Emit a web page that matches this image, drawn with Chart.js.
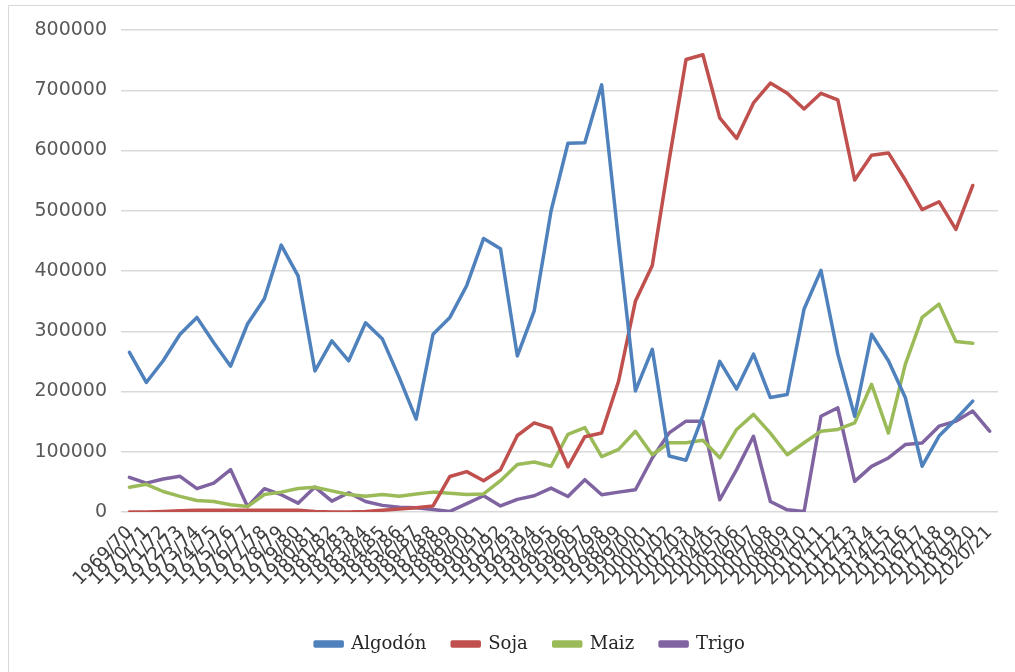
<!DOCTYPE html>
<html>
<head>
<meta charset="utf-8">
<script src="https://cdn.jsdelivr.net/npm/chart.js@4/dist/chart.umd.min.js"></script>
<style>
  html, body { margin: 0; padding: 0; background: #ffffff; }
  #wrap { position: relative; width: 1015px; height: 672px; }
  #frame { position: absolute; left: 8px; top: 5px; width: 1010px; height: 670px;
           border-left: 1px solid #d9d9d9; border-top: 1px solid #d9d9d9; pointer-events: none; }
  canvas { display: block; }
</style>
</head>
<body>
<div id="wrap">
  <canvas id="c" width="1015" height="672"></canvas>
  <div id="frame"></div>
</div>
<script>
const categories = [
  "1969/70","1970/71","1971/72","1972/73","1973/74","1974/75","1975/76","1976/77","1977/78","1978/79",
  "1979/80","1980/81","1981/82","1982/83","1983/84","1984/85","1985/86","1986/87","1987/88","1988/89",
  "1989/90","1990/91","1991/92","1992/93","1993/94","1994/95","1995/96","1996/97","1997/98","1998/99",
  "1999/00","2000/01","2001/02","2002/03","2003/04","2004/05","2005/06","2006/07","2007/08","2008/09",
  "2009/10","2010/11","2011/12","2012/13","2013/14","2014/15","2015/16","2016/17","2017/18","2018/19",
  "2019/20","2020/21"
];

const algodon = [
  265000,215000,251000,295000,323000,281000,242000,312000,354000,443000,
  392000,234000,284000,251000,314000,287000,223000,154000,295000,323000,
  376000,454000,437000,259000,334000,500000,612000,613000,709000,450000,
  201000,270000,93000,86000,160000,250000,204000,262000,190000,195000,
  337000,401000,262000,159000,295000,251000,190000,76000,126000,154000,
  184000,null
];

const soja = [
  0,0,1000,2000,3000,3000,3000,3000,3000,3000,
  3000,1000,0,0,1000,3000,5000,7000,10000,59000,
  67000,52000,70000,127000,148000,139000,75000,125000,131000,217000,
  350000,409000,584000,751000,759000,654000,620000,679000,712000,695000,
  669000,695000,684000,551000,592000,596000,551000,502000,515000,469000,
  542000,null
];

const maiz = [
  41000,46000,34000,26000,19000,17500,12000,9000,29000,33000,
  39000,41000,35000,29000,26000,29000,26000,30000,33000,31000,
  29000,30000,52000,79000,83000,76000,129000,140000,92000,104000,
  134000,95000,115000,115000,119000,90000,137000,162000,131000,95000,
  115000,134000,137000,148000,212000,131000,245000,323000,345000,283000,
  280000,null
];

const trigo = [
  57500,48000,54700,59200,38700,48000,70300,9000,38700,28700,
  14700,41400,18000,32000,17500,11000,8000,7000,4000,1000,
  14000,27000,10000,21000,27000,39700,25800,53600,28700,33000,
  37000,89700,131300,150800,150800,20300,70300,125800,17500,3600,
  800,159000,173000,50800,75800,89700,112000,114700,142500,150800,
  167500,134200
];

const seriesNames = ["Algodón", "Soja", "Maiz", "Trigo"];
const seriesColors = ["#4f81bd", "#c0504d", "#9bbb59", "#8064a2"];
const yTicks = [0,100000,200000,300000,400000,500000,600000,700000,800000];

const allSeries = [algodon, soja, maiz, trigo];
const datasets = allSeries.map((d, i) => ({
  label: seriesNames[i],
  data: d,
  borderColor: seriesColors[i],
  backgroundColor: seriesColors[i],
  borderWidth: 3.5,
  pointRadius: 0,
  pointHoverRadius: 0,
  tension: 0,
  borderJoinStyle: 'round',
  borderCapStyle: 'round',
  fill: false,
  spanGaps: false
}));

const legendShift = {
  id: 'legendShift',
  afterLayout(chart) {
    if (chart.legend) { chart.legend.left = 56; }
  }
};

new Chart(document.getElementById('c'), {
  type: 'line',
  data: { labels: categories, datasets },
  plugins: [legendShift],
  options: {
    responsive: false,
    animation: false,
    events: [],
    layout: { padding: { left: 0, right: 11, top: 30, bottom: 9 } },
    plugins: {
      tooltip: { enabled: false },
      title: { display: false },
      legend: {
        display: true,
        position: 'bottom',
        align: 'center',
        labels: {
          boxWidth: 27,
          boxHeight: 4,
          padding: 26,
          color: '#262626',
          font: { family: "'DejaVu Serif', 'Liberation Serif', serif", size: 18 }
        }
      }
    },
    scales: {
      x: {
        type: 'category',
        offset: true,
        grid: { display: false, drawTicks: false },
        border: { display: false },
        ticks: {
          autoSkip: false,
          minRotation: 45,
          maxRotation: 45,
          padding: 10,
          color: '#404040',
          font: { family: "'DejaVu Sans', Verdana, sans-serif", size: 18 }
        },
        afterFit: (scale) => { scale.height = 97; }
      },
      y: {
        min: 0,
        max: 800000,
        afterBuildTicks: (scale) => { scale.ticks = yTicks.map(v => ({ value: v })); },
        grid: { color: '#d9d9d9', lineWidth: 1.5, drawTicks: false },
        border: { display: false },
        ticks: {
          padding: 14,
          color: '#595959',
          font: { family: "'DejaVu Sans', Verdana, sans-serif", size: 19 },
          callback: (v) => String(v)
        },
        afterFit: (scale) => { scale.width = 121; }
      }
    }
  }
});
</script>
</body>
</html>
